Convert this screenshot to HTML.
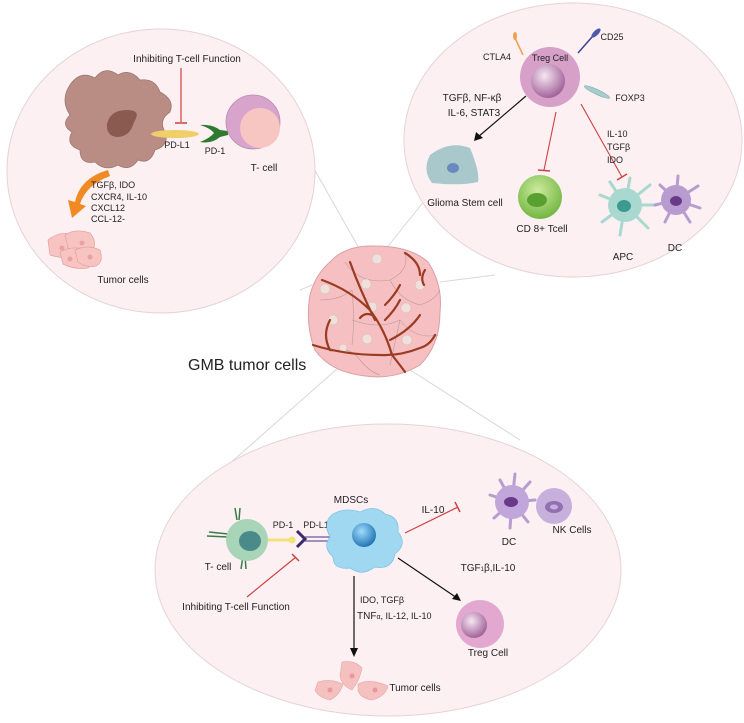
<!DOCTYPE html>
<html><head><meta charset="utf-8"><style>
html,body{margin:0;padding:0;background:#fff}
svg{display:block}
text{font-family:"Liberation Sans",Arial,sans-serif;fill:#222}
</style></head><body>
<svg width="744" height="723" viewBox="0 0 744 723" xmlns="http://www.w3.org/2000/svg">
<defs>
<radialGradient id="tr" cx="40%" cy="35%" r="70%"><stop offset="0" stop-color="#f6e6f2"/><stop offset="1" stop-color="#9c5a94"/></radialGradient>
<radialGradient id="bl" cx="40%" cy="35%" r="70%"><stop offset="0" stop-color="#9fdcff"/><stop offset="1" stop-color="#1a6fae"/></radialGradient>
<radialGradient id="gr" cx="45%" cy="35%" r="70%"><stop offset="0" stop-color="#cdeaa0"/><stop offset="1" stop-color="#6bb33a"/></radialGradient>
</defs>
<g stroke="#d8d8d8" stroke-width="1" fill="none">
<line x1="313" y1="167" x2="360" y2="250"/>
<line x1="300" y1="290" x2="312" y2="285"/>
<line x1="425" y1="200" x2="385" y2="250"/>
<line x1="495" y1="275" x2="440" y2="282"/>
<line x1="338" y1="368" x2="228" y2="465"/>
<line x1="407" y1="368" x2="520" y2="440"/>
</g>
<ellipse cx="161" cy="171" rx="154" ry="142" fill="#fcf0f3" stroke="#e6d2da"/>
<ellipse cx="573" cy="140" rx="169" ry="137" fill="#fcf0f3" stroke="#e6d2da"/>
<ellipse cx="388" cy="570" rx="233" ry="146" fill="#fcf0f3" stroke="#e6d2da"/>

<!-- TOP LEFT -->
<text x="187" y="62" font-size="10" text-anchor="middle">Inhibiting T-cell Function</text>
<line x1="181" y1="68" x2="181" y2="122" stroke="#d04040" stroke-width="1.2"/>
<line x1="175" y1="123" x2="187" y2="123" stroke="#d04040" stroke-width="1.5"/>
<path d="M70,85 Q80,70 95,78 Q105,65 118,75 Q130,68 140,80 Q155,78 160,92 Q175,100 170,112 Q158,120 165,132 Q170,145 155,150 Q150,165 138,160 Q130,172 118,165 Q105,172 95,162 Q80,165 80,150 Q65,145 72,132 Q60,125 70,115 Q60,100 70,85Z" fill="#b98d84" stroke="#a07670" stroke-width="0.8"/>
<path d="M107,124 Q110,110 127,110 Q142,110 134,122 Q130,137 117,137 Q106,136 107,124Z" fill="#8a5a50"/>
<ellipse cx="175" cy="134" rx="24" ry="4" fill="#f0cf6a"/>
<text x="177" y="148" font-size="9" text-anchor="middle">PD-L1</text>
<path d="M200,125 Q210,128 214,133 Q210,138 200,142 Q212,144 220,137 L228,135 L228,131 L220,130 Q212,124 200,125Z" fill="#2f7a30"/>
<text x="215" y="154" font-size="9" text-anchor="middle">PD-1</text>
<circle cx="253" cy="122" r="27" fill="#d9a4cc" stroke="#b78bb0" stroke-width="0.8"/>
<circle cx="260" cy="128" r="20" fill="#f8c6c2"/>
<text x="264" y="171" font-size="10" text-anchor="middle">T- cell</text>
<path d="M108,170 Q80,178 75,202 L68,200 L72,218 L86,206 L80,204 Q86,185 110,176Z" fill="#f08a22"/>
<g font-size="9"><text x="91" y="188">TGFβ, IDO</text><text x="91" y="200">CXCR4, IL-10</text><text x="91" y="211">CXCL12</text><text x="91" y="222">CCL-12-</text></g>
<g fill="#f7c4c2" stroke="#e39f9f" stroke-width="0.7">
<path d="M48,240 Q60,230 75,235 Q85,245 78,255 Q65,260 50,255Z"/>
<path d="M65,235 Q75,228 90,233 Q98,243 92,250 Q80,254 68,248Z"/>
<path d="M60,252 Q72,245 88,250 Q96,262 88,268 Q75,270 63,264Z"/>
<path d="M75,250 Q88,244 100,250 Q104,262 96,266 Q86,268 78,262Z"/>
</g>
<g fill="#e7a2a2"><circle cx="62" cy="248" r="2.5"/><circle cx="82" cy="243" r="2.5"/><circle cx="70" cy="259" r="2.5"/><circle cx="90" cy="257" r="2.5"/></g>
<text x="123" y="283" font-size="10" text-anchor="middle">Tumor cells</text>

<!-- TOP RIGHT -->
<line x1="523" y1="55" x2="515" y2="38" stroke="#f0a050" stroke-width="1.5"/>
<ellipse cx="515" cy="36" rx="2" ry="4" fill="#f0a050"/>
<text x="497" y="60" font-size="9" text-anchor="middle">CTLA4</text>
<line x1="578" y1="53" x2="592" y2="37" stroke="#404090" stroke-width="1.5"/>
<ellipse cx="596" cy="33" rx="2.5" ry="6" transform="rotate(45 596 33)" fill="#505aa8"/>
<text x="612" y="40" font-size="9" text-anchor="middle">CD25</text>
<ellipse cx="597" cy="92" rx="14" ry="2.5" transform="rotate(25 597 92)" fill="#a8cccc" stroke="#7aa" stroke-width="0.5"/>
<text x="630" y="101" font-size="9" text-anchor="middle">FOXP3</text>
<circle cx="550" cy="77" r="30" fill="#d6a0c9"/>
<circle cx="548" cy="81" r="17" fill="url(#tr)"/>
<text x="550" y="61" font-size="9" text-anchor="middle">Treg Cell</text>
<g font-size="10"><text x="472" y="101" text-anchor="middle">TGFβ, NF-κβ</text><text x="474" y="116" text-anchor="middle">IL-6, STAT3</text></g>
<line x1="526" y1="96" x2="478" y2="137" stroke="#111" stroke-width="1.2"/>
<path d="M474,141 L476,132 L483,138Z" fill="#111"/>
<path d="M430,155 Q450,140 470,148 Q480,172 478,182 Q460,186 432,183 Q422,170 430,155Z" fill="#a8c8cc"/>
<ellipse cx="453" cy="168" rx="6" ry="5" fill="#6c88c0"/>
<text x="465" y="206" font-size="10" text-anchor="middle">Glioma Stem cell</text>
<line x1="556" y1="112" x2="544" y2="170" stroke="#d04040" stroke-width="1.1"/>
<line x1="538" y1="170" x2="550" y2="171" stroke="#d04040" stroke-width="1.5"/>
<circle cx="540" cy="197" r="22" fill="url(#gr)"/>
<ellipse cx="537" cy="200" rx="10" ry="7" fill="#5aa030"/>
<text x="542" y="232" font-size="10" text-anchor="middle">CD 8+ Tcell</text>
<line x1="581" y1="104" x2="622" y2="177" stroke="#d04040" stroke-width="1.1"/>
<line x1="617" y1="180" x2="627" y2="174" stroke="#d04040" stroke-width="1.5"/>
<g font-size="9"><text x="607" y="137">IL-10</text><text x="607" y="150">TGFβ</text><text x="607" y="163">IDO</text></g>
<g stroke="#a9d8d0" stroke-width="3" stroke-linecap="round">
<line x1="625" y1="205" x2="600" y2="195"/><line x1="625" y1="205" x2="610" y2="182"/><line x1="625" y1="205" x2="630" y2="178"/><line x1="625" y1="205" x2="650" y2="185"/><line x1="625" y1="205" x2="655" y2="205"/><line x1="625" y1="205" x2="648" y2="228"/><line x1="625" y1="205" x2="620" y2="235"/><line x1="625" y1="205" x2="602" y2="222"/></g>
<circle cx="625" cy="205" r="17" fill="#a9d8d0"/>
<ellipse cx="624" cy="206" rx="7" ry="6" fill="#3d9a90"/>
<g stroke="#b89cd0" stroke-width="3" stroke-linecap="round">
<line x1="676" y1="200" x2="660" y2="185"/><line x1="676" y1="200" x2="678" y2="176"/><line x1="676" y1="200" x2="698" y2="186"/><line x1="676" y1="200" x2="700" y2="208"/><line x1="676" y1="200" x2="690" y2="222"/><line x1="676" y1="200" x2="665" y2="222"/><line x1="676" y1="200" x2="655" y2="205"/></g>
<circle cx="676" cy="200" r="15" fill="#b89cd0"/>
<ellipse cx="676" cy="201" rx="6" ry="5" fill="#6a3a8a"/>
<text x="623" y="260" font-size="10" text-anchor="middle">APC</text>
<text x="675" y="251" font-size="10" text-anchor="middle">DC</text>

<!-- TUMOR -->
<path d="M330,262 Q345,245 375,246 Q410,246 428,262 Q443,285 440,312 Q440,345 420,365 Q395,380 365,376 Q330,372 315,350 Q305,325 310,295 Q315,275 330,262Z" fill="#f6c0c2" stroke="#d8a0a4"/>
<g stroke="#b99" stroke-width="0.6" fill="none">
<path d="M345,262 Q360,285 390,280 Q410,270 405,253"/><path d="M320,300 Q340,300 352,290"/><path d="M352,290 Q355,320 352,345"/><path d="M390,280 Q400,300 420,305 Q435,300 440,290"/><path d="M352,320 Q380,330 400,320 Q415,340 438,335"/><path d="M330,352 Q350,345 360,360 Q370,372 380,375"/><path d="M400,320 L390,365"/>
</g>
<g fill="#efe0dc" stroke="#d9b8b4" stroke-width="0.5">
<circle cx="377" cy="259" r="5"/><circle cx="325" cy="289" r="5"/><circle cx="366" cy="284" r="5"/><circle cx="420" cy="285" r="5"/><circle cx="372" cy="307" r="5"/><circle cx="406" cy="308" r="5"/><circle cx="333" cy="320" r="5"/><circle cx="367" cy="339" r="5"/><circle cx="407" cy="340" r="5"/><circle cx="343" cy="348" r="4"/>
</g>
<g stroke="#9a3b22" stroke-width="2.2" fill="none" stroke-linecap="round">
<path d="M322,280 Q350,290 370,310 Q385,330 392,355 Q400,365 405,372"/>
<path d="M350,262 Q360,290 375,320"/>
<path d="M385,305 Q395,295 400,285"/><path d="M385,320 Q395,310 400,300"/><path d="M390,340 Q410,330 420,315"/>
<path d="M313,345 Q345,355 380,355 Q400,356 420,348 Q430,345 435,335"/>
<path d="M330,350 Q322,335 330,320"/>
<path d="M405,253 Q420,262 420,275"/><path d="M425,270 Q420,278 424,285"/>
<path d="M360,318 Q365,312 372,315"/>
</g>
<text x="188" y="370" font-size="16">GMB tumor cells</text>

<!-- BOTTOM -->
<g stroke="#3c7a4a" stroke-width="1.5">
<line x1="237" y1="520" x2="235" y2="508"/><line x1="239" y1="520" x2="240" y2="508"/>
<line x1="228" y1="537" x2="207" y2="536"/><line x1="228" y1="534" x2="209" y2="532"/>
<line x1="243" y1="556" x2="241" y2="569"/><line x1="245" y1="556" x2="246" y2="569"/>
</g>
<circle cx="247" cy="540" r="21" fill="#a8d4b8"/>
<ellipse cx="250" cy="541" rx="11" ry="10" fill="#4a8a8a"/>
<text x="218" y="570" font-size="10" text-anchor="middle">T- cell</text>
<line x1="268" y1="540" x2="290" y2="540" stroke="#f2e27a" stroke-width="3"/>
<circle cx="292" cy="540" r="3.5" fill="#f2e27a"/>
<path d="M297,531 L305,539 L297,547" stroke="#3a2a6a" stroke-width="3" fill="none"/>
<line x1="305" y1="537" x2="330" y2="537" stroke="#6a5a9a" stroke-width="1.2"/>
<line x1="305" y1="541" x2="330" y2="541" stroke="#6a5a9a" stroke-width="1.2"/>
<text x="283" y="528" font-size="9" text-anchor="middle">PD-1</text>
<text x="316" y="528" font-size="9" text-anchor="middle">PD-L1</text>
<path d="M333,514 Q345,507 360,512 Q375,504 385,514 Q400,517 398,532 Q408,544 395,554 Q392,570 375,567 Q362,577 350,568 Q333,570 333,557 Q322,547 330,537 Q322,522 333,514Z" fill="#9fd8f0" stroke="#7ac0e0" stroke-width="0.7"/>
<circle cx="364" cy="535" r="12" fill="url(#bl)"/>
<text x="351" y="503" font-size="10" text-anchor="middle">MDSCs</text>
<text x="433" y="513" font-size="10" text-anchor="middle">IL-10</text>
<line x1="405" y1="533" x2="458" y2="507" stroke="#d04040" stroke-width="1.2"/>
<line x1="455" y1="502" x2="460" y2="512" stroke="#d04040" stroke-width="1.5"/>
<g stroke="#b89cd0" stroke-width="3" stroke-linecap="round">
<line x1="512" y1="502" x2="490" y2="495"/><line x1="512" y1="502" x2="500" y2="480"/><line x1="512" y1="502" x2="515" y2="474"/><line x1="512" y1="502" x2="530" y2="482"/><line x1="512" y1="502" x2="535" y2="500"/><line x1="512" y1="502" x2="528" y2="522"/><line x1="512" y1="502" x2="510" y2="528"/><line x1="512" y1="502" x2="494" y2="518"/></g>
<circle cx="512" cy="502" r="17" fill="#c0a6da"/>
<ellipse cx="511" cy="502" rx="7" ry="5" fill="#6a3a8a"/>
<circle cx="554" cy="506" r="18" fill="#c8b0dc"/>
<ellipse cx="554" cy="507" rx="9" ry="6" fill="#9070b0"/>
<ellipse cx="554" cy="507" rx="4" ry="2.5" fill="#c8b0dc"/>
<text x="509" y="545" font-size="10" text-anchor="middle">DC</text>
<text x="572" y="533" font-size="10" text-anchor="middle">NK Cells</text>
<line x1="398" y1="558" x2="457" y2="598" stroke="#111" stroke-width="1.2"/>
<path d="M461,601 L452,599 L457,593Z" fill="#111"/>
<text x="488" y="571" font-size="10" text-anchor="middle">TGF<tspan font-size="6">1</tspan>β,IL-10</text>
<circle cx="480" cy="624" r="24" fill="#e2a8d0"/>
<circle cx="474" cy="625" r="13" fill="url(#tr)"/>
<text x="488" y="656" font-size="10" text-anchor="middle">Treg Cell</text>
<line x1="354" y1="576" x2="354" y2="650" stroke="#111" stroke-width="1.2"/>
<path d="M350,648 L358,648 L354,657Z" fill="#111"/>
<g font-size="9"><text x="360" y="603">IDO, TGFβ</text><text x="357" y="619"><tspan font-size="10">TNF</tspan><tspan font-size="7">α</tspan>, IL-12, IL-10</text></g>
<text x="236" y="610" font-size="10" text-anchor="middle">Inhibiting T-cell Function</text>
<line x1="247" y1="597" x2="296" y2="557" stroke="#d04040" stroke-width="1.2"/>
<line x1="292" y1="554" x2="299" y2="561" stroke="#d04040" stroke-width="1.5"/>
<g fill="#f5c0c0" stroke="#e8a4a4" stroke-width="0.6">
<path d="M342,662 Q355,660 362,668 Q360,680 352,690 Q342,686 340,676Z"/>
<path d="M318,682 Q330,678 343,684 Q340,695 330,700 Q318,697 315,690Z"/>
<path d="M358,684 Q370,678 388,686 Q385,697 372,700 Q360,698 358,690Z"/>
</g>
<g fill="#e89898"><circle cx="352" cy="676" r="2.5"/><circle cx="330" cy="690" r="2.5"/><circle cx="375" cy="690" r="2.5"/></g>
<text x="415" y="691" font-size="10" text-anchor="middle">Tumor cells</text>
</svg>
</body></html>
